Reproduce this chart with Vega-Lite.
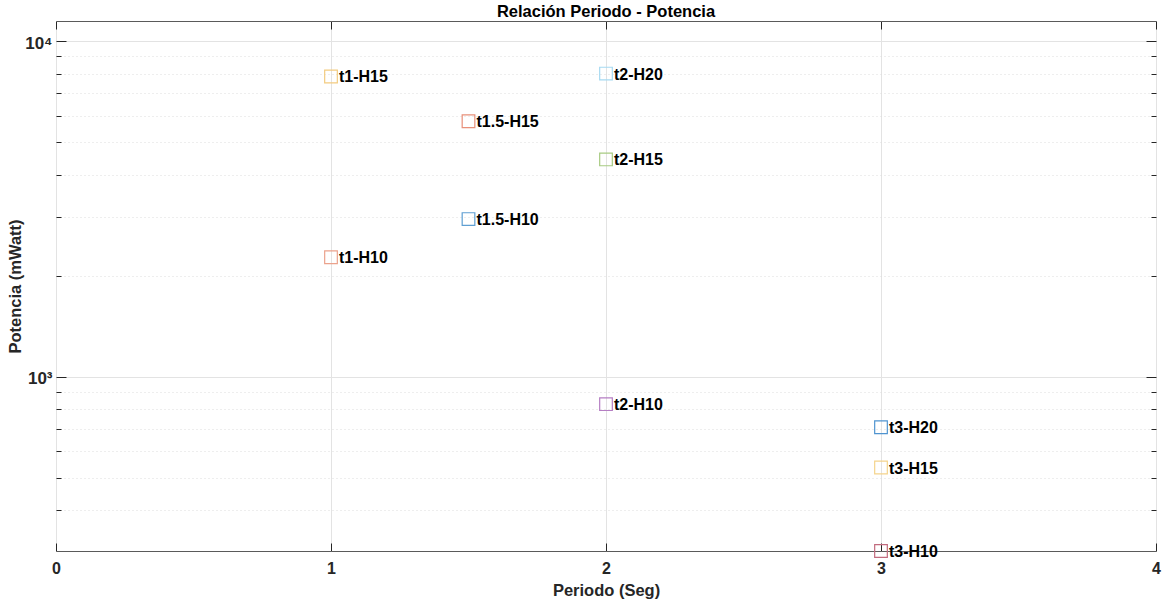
{
  "$schema": "https://vega.github.io/schema/vega-lite/v6.json",
  "width": 1100,
  "height": 530,
  "autosize": "none",
  "padding": {"left": 56, "top": 21, "right": 6, "bottom": 51},
  "background": "white",
  "title": {"text": "Relación Periodo - Potencia", "font": "Liberation Sans", "fontSize": 16.5, "fontWeight": "bold", "color": "#000000", "offset": 4, "dy": 4, "anchor": "middle"},
  "config": {
    "view": {"stroke": "#5a5a5a", "strokeWidth": 1},
    "axis": {"domain": false, "labelFont": "Liberation Sans", "titleFont": "Liberation Sans", "tickColor": "#262626", "tickWidth": 1, "labelColor": "#262626", "titleColor": "#262626", "labelFontWeight": "bold", "titleFontWeight": "bold", "labelFontSize": 16, "titleFontSize": 16.5}
  },
  "data": {"values": [
    {"periodo": 1, "potencia": 7840, "label": "t1-H15"},
    {"periodo": 2, "potencia": 8000, "label": "t2-H20"},
    {"periodo": 1.5, "potencia": 5770, "label": "t1.5-H15"},
    {"periodo": 2, "potencia": 4440, "label": "t2-H15"},
    {"periodo": 1.5, "potencia": 2950, "label": "t1.5-H10"},
    {"periodo": 1, "potencia": 2270, "label": "t1-H10"},
    {"periodo": 2, "potencia": 829, "label": "t2-H10"},
    {"periodo": 3, "potencia": 708, "label": "t3-H20"},
    {"periodo": 3, "potencia": 537, "label": "t3-H15"},
    {"periodo": 3, "potencia": 303, "label": "t3-H10"}
  ]},
  "layer": [
    {
      "mark": {"type": "point", "shape": "square", "size": 160, "filled": false, "strokeWidth": 1.2, "opacity": 1},
      "encoding": {
        "x": {"field": "periodo", "type": "quantitative", "scale": {"domain": [0, 4], "nice": false, "zero": false},
          "axis": {"orient": "bottom", "values": [0, 1, 2, 3, 4], "format": "d", "tickSize": -8, "labelPadding": 17, "labelFlush": false, "grid": true, "gridColor": "#e3e3e3", "title": "Periodo (Seg)", "titlePadding": 6}},
        "y": {"field": "potencia", "type": "quantitative", "scale": {"type": "log", "domain": [303, 11470], "nice": false},
          "axis": {"orient": "left", "values": [1000, 10000], "labelExpr": "datum.value == 10000 ? '10⁴' : '10³'", "tickSize": -10, "labelPadding": 14, "labelFontSize": 17, "labelBaseline": "middle", "labelOffset": 2, "grid": true, "gridColor": "#e3e3e3", "title": "Potencia (mWatt)", "titlePadding": 1}},
        "color": {"field": "label", "type": "nominal", "legend": null,
          "scale": {"domain": ["t1-H15", "t2-H20", "t1.5-H15", "t2-H15", "t1.5-H10", "t1-H10", "t2-H10", "t3-H20", "t3-H15", "t3-H10"],
                    "range": ["#F3CC80", "#A6DAF2", "#E8907A", "#A8CB82", "#5F9FD2", "#EBA28C", "#B57EC3", "#4F94D0", "#F5D48C", "#C26B7E"]}}
      }
    },
    {
      "mark": {"type": "text", "align": "left", "baseline": "middle", "dx": 8, "dy": 1, "font": "Liberation Sans", "fontSize": 16, "fontWeight": "bold", "color": "#000000"},
      "encoding": {
        "x": {"field": "periodo", "type": "quantitative", "scale": {"domain": [0, 4], "nice": false, "zero": false},
          "axis": {"orient": "top", "values": [0, 1, 2, 3, 4], "labels": false, "tickSize": -8, "grid": false, "title": null}},
        "y": {"field": "potencia", "type": "quantitative", "scale": {"type": "log", "domain": [303, 11470], "nice": false},
          "axis": {"orient": "left", "values": [400, 500, 600, 700, 800, 900, 2000, 3000, 4000, 5000, 6000, 7000, 8000, 9000], "labels": false, "tickSize": -5, "grid": true, "gridColor": "#dcdcdc", "gridDash": [1, 3], "title": null}},
        "text": {"field": "label", "type": "nominal"}
      }
    },
    {
      "mark": {"type": "point", "opacity": 0},
      "encoding": {
        "x": {"field": "periodo", "type": "quantitative", "scale": {"domain": [0, 4], "nice": false, "zero": false}, "axis": null},
        "y": {"field": "potencia", "type": "quantitative", "scale": {"type": "log", "domain": [303, 11470], "nice": false},
          "axis": {"orient": "right", "values": [1000, 10000], "labels": false, "tickSize": -10, "grid": false, "title": null}}
      }
    },
    {
      "mark": {"type": "point", "opacity": 0},
      "encoding": {
        "x": {"field": "periodo", "type": "quantitative", "scale": {"domain": [0, 4], "nice": false, "zero": false}, "axis": null},
        "y": {"field": "potencia", "type": "quantitative", "scale": {"type": "log", "domain": [303, 11470], "nice": false},
          "axis": {"orient": "right", "values": [400, 500, 600, 700, 800, 900, 2000, 3000, 4000, 5000, 6000, 7000, 8000, 9000], "labels": false, "tickSize": -5, "grid": false, "title": null}}
      }
    }
  ],
  "resolve": {"axis": {"x": "independent", "y": "independent"}}
}
